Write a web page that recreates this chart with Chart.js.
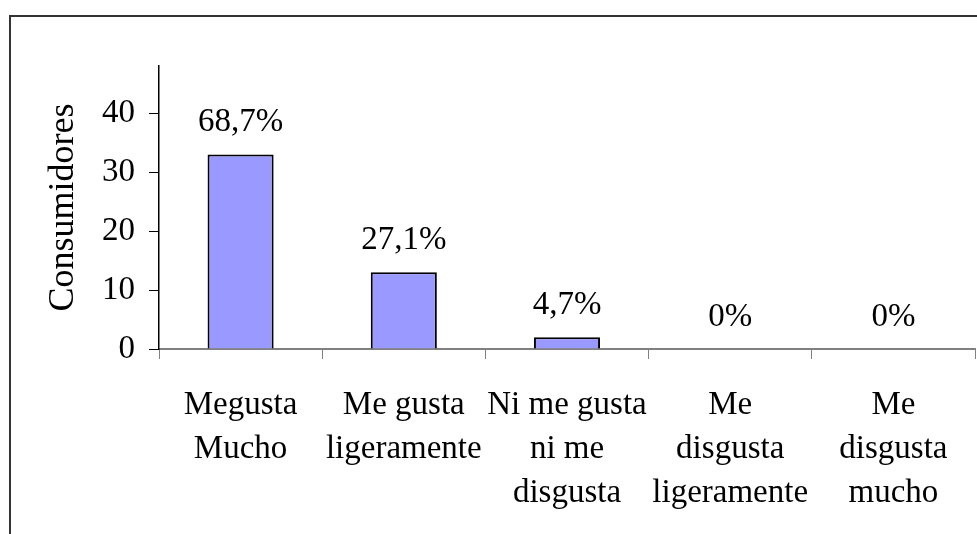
<!DOCTYPE html>
<html lang="es">
<head>
    <meta charset="UTF-8">
    <title>Consumidores</title>
    <style>
        * { margin: 0; padding: 0; box-sizing: border-box; }
        body { background: #fff; width: 977px; height: 534px; overflow: hidden; position: relative; }
        .frame { position: absolute; left: 9px; top: 15px; width: 1000px; height: 560px; border: 2px solid #333; }
        #chart { position: absolute; left: 0; top: 0; }
    </style>
    <script src="https://cdn.jsdelivr.net/npm/chart.js"></script>
</head>
<body>
    <div class="frame"></div>
    <canvas id="chart" width="977" height="534"></canvas>

    <script>
        const categories = [
            ['Megusta', 'Mucho'],
            ['Me gusta', 'ligeramente'],
            ['Ni me gusta', 'ni me', 'disgusta'],
            ['Me', 'disgusta', 'ligeramente'],
            ['Me', 'disgusta', 'mucho']
        ];
        const consumidores = [33, 13, 2, 0, 0];
        const percentLabels = ['68,7%', '27,1%', '4,7%', '0%', '0%'];
        const yTicks = [0, 10, 20, 30, 40];

        const serif = 'Liberation Serif, Times New Roman, serif';

        // percentage text above each bar
        const barLabels = {
            id: 'barLabels',
            afterDatasetsDraw(chart) {
                const ctx = chart.ctx;
                const meta = chart.getDatasetMeta(0);
                ctx.save();
                ctx.font = '33px ' + serif;
                ctx.fillStyle = '#000';
                ctx.textAlign = 'center';
                ctx.textBaseline = 'alphabetic';
                meta.data.forEach((bar, i) => {
                    ctx.fillText(percentLabels[i], bar.x, bar.y - 23);
                });
                ctx.restore();
            }
        };

        new Chart(document.getElementById('chart'), {
            type: 'bar',
            data: {
                labels: categories,
                datasets: [{
                    data: consumidores,
                    backgroundColor: '#9999ff',
                    borderColor: '#000',
                    borderWidth: 2,
                    categoryPercentage: 1,
                    barPercentage: 0.405
                }]
            },
            options: {
                responsive: false,
                animation: false,
                layout: { padding: { top: 66, right: 2, left: 42, bottom: 10 } },
                plugins: { legend: { display: false }, tooltip: { enabled: false } },
                scales: {
                    x: {
                        grid: { drawOnChartArea: false, tickLength: 10, color: '#808080', offset: true },
                        border: { color: '#808080', width: 2 },
                        ticks: {
                            color: '#000',
                            font: { family: serif, size: 33, lineHeight: 1.32 },
                            maxRotation: 0,
                            autoSkip: false,
                            padding: 25
                        },
                        afterFit(scale) { scale.height = 534 - 349 - 10; }
                    },
                    y: {
                        min: 0,
                        max: 48,
                        afterBuildTicks(scale) {
                            scale.ticks = yTicks.map(v => ({ value: v }));
                        },
                        grid: { drawOnChartArea: false, tickLength: 10, color: '#000' },
                        border: { color: '#000', width: 1.5 },
                        ticks: {
                            color: '#000',
                            font: { family: serif, size: 33 },
                            padding: 14
                        },
                        title: {
                            display: true,
                            text: 'Consumidores',
                            color: '#000',
                            font: { family: serif, size: 36 },
                            padding: 0
                        },
                        afterFit(scale) { scale.width = 159 - 42; }
                    }
                }
            },
            plugins: [barLabels]
        });
    </script>
</body>
</html>
